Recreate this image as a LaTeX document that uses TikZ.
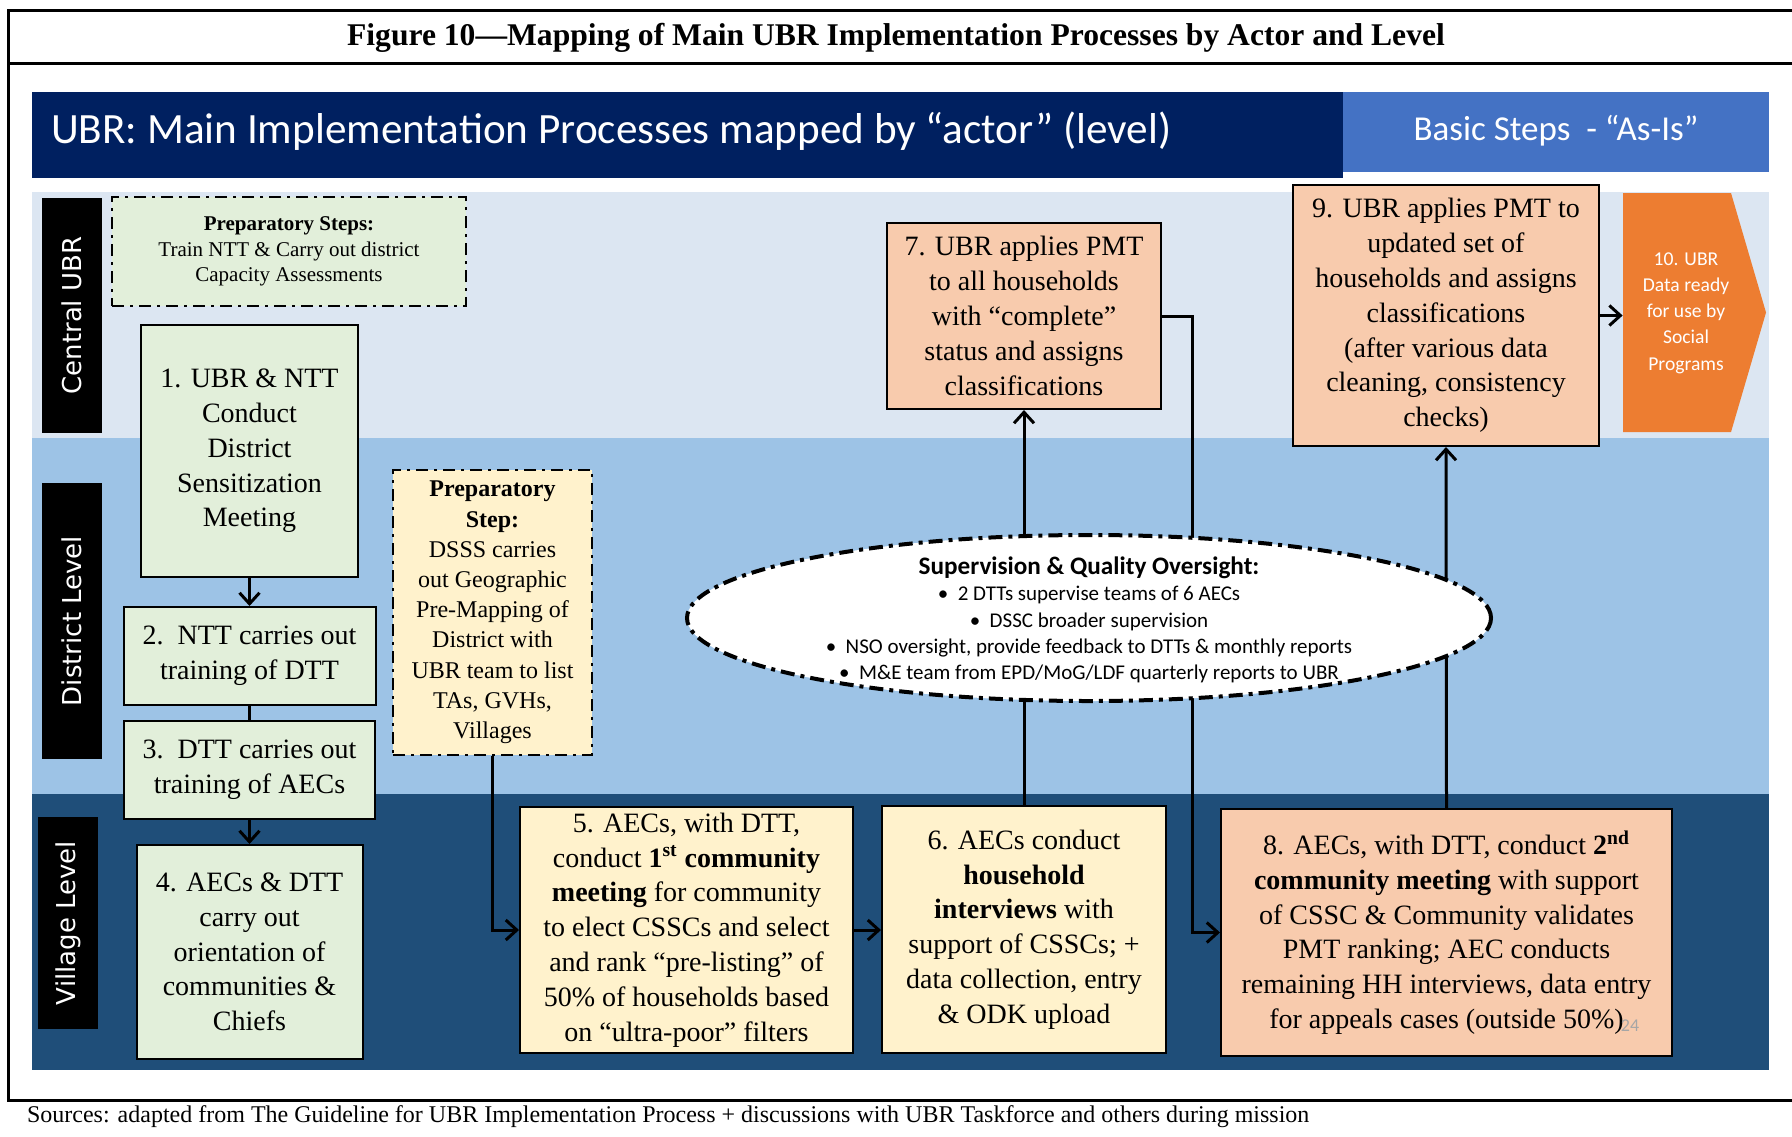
\documentclass[tikz,border=0pt]{standalone}
\usepackage{fontspec}
\setmainfont{Liberation Serif}
\newfontfamily\calibri{Carlito}
\newfontfamily\verd{DejaVu Sans}
\usetikzlibrary{positioning,shapes.geometric,arrows.meta}

\definecolor{navy}{HTML}{002060}
\definecolor{hdrblue}{HTML}{4472C4}
\definecolor{bandc}{HTML}{DCE6F2}
\definecolor{bandd}{HTML}{9DC3E6}
\definecolor{bandv}{HTML}{1F4E79}
\definecolor{lgreen}{HTML}{E2EFDA}
\definecolor{lyellow}{HTML}{FFF2CC}
\definecolor{peach}{HTML}{F8CBAD}
\definecolor{orng}{HTML}{ED7D31}

\begin{document}
\begin{tikzpicture}[x=0.5pt,y=-0.5pt,
  box/.style={draw,line width=1pt,align=center,inner sep=0pt,font=\fontsize{14}{17.4}\selectfont},
  prepbox/.style={box,line width=1.2pt,dash pattern=on 6pt off 3pt on 1.5pt off 3pt},
  lvl/.style={fill=black,text=white,rotate=90,inner sep=0pt,minimum height=30pt,font=\verd\fontsize{13}{15}\selectfont},
  arr/.style={line width=1.5pt,-{Straight Barb[length=5.5pt,width=10pt]}},
  con/.style={line width=1.5pt}]
\useasboundingbox (0,0) rectangle (1792,1136);

\draw[line width=1.5pt] (1792,10) -- (8,10) -- (8,1100) -- (1792,1100);
\draw[line width=1.5pt] (8,63) -- (1792,63);
\node (title) at (896,38) {\bfseries\fontsize{15.8}{18}\selectfont Figure 10—Mapping of Main UBR Implementation Processes by Actor and Level};

\fill[navy] (32,92) rectangle (1343,178);
\fill[hdrblue] (1343,92) rectangle (1769,172);
\node[anchor=west,text=white,font=\calibri\fontsize{21.6}{26}\selectfont] (hdr) at (44,131) {UBR: Main Implementation Processes mapped by “actor” (level)};
\node[text=white,font=\calibri\fontsize{17.5}{20}\selectfont] (steps) at (1556,131) {Basic Steps\ \ - “As-Is”};

\fill[bandc] (32,192) rectangle (1769,438);
\fill[bandd] (32,438) rectangle (1769,794);
\fill[bandv] (32,794) rectangle (1769,1070);

\node[lvl,minimum width=117.5pt] (central) at (72,315.5) {Central UBR};
\node[lvl,minimum width=138pt] (district) at (72,621) {District Level};
\node[lvl,minimum width=106pt] (village) at (68,923) {Village Level};

\node[prepbox,fill=lgreen,minimum width=177pt,minimum height=54.5pt,font=\fontsize{10.5}{12.9}\selectfont] (prepcap) at (289,251.5) {\textbf{Preparatory Steps:}\\Train NTT \& Carry out district\\Capacity Assessments};
\node[box,fill=lgreen,minimum width=108.5pt,minimum height=126pt] (s1) at (249.5,451) {1. UBR \& NTT\\Conduct\\District\\Sensitization\\Meeting};
\node[box,fill=lgreen,minimum width=126pt,minimum height=49pt] (s2) [below=14pt of s1] {2.\ \ NTT carries out\\training of DTT};
\node[box,fill=lgreen,minimum width=125.5pt,minimum height=49pt] (s3) [below=7pt of s2] {3.\ \ DTT carries out\\training of AECs};
\node[box,fill=lgreen,minimum width=113pt,minimum height=107pt] (s4) [below=12pt of s3] {4. AECs \& DTT\\carry out\\orientation of\\communities \&\\Chiefs};

\node[prepbox,fill=lyellow,minimum width=99.5pt,minimum height=142.5pt,font=\fontsize{12}{15.1}\selectfont] (prepmap) at (492.5,612.5) {\textbf{Preparatory}\\\textbf{Step:}\\DSSS carries\\out Geographic\\Pre-Mapping of\\District with\\UBR team to list\\TAs, GVHs,\\Villages};

\node[box,fill=lyellow,minimum width=166.5pt,minimum height=123pt] (s5) at (686.5,930) {5. AECs, with DTT,\\conduct \textbf{1\textsuperscript{st} community}\\\textbf{meeting} for community\\to elect CSSCs and select\\and rank “pre-listing” of\\50\% of households based\\on “ultra-poor” filters};
\node[box,fill=lyellow,minimum width=142pt,minimum height=123.5pt] (s6) at (1024,929.5) {6. AECs conduct\\\textbf{household}\\\textbf{interviews} with\\support of CSSCs; +\\data collection, entry\\\& ODK upload};
\node[box,fill=peach,minimum width=137pt,minimum height=93pt] (s7) at (1024,316) {7. UBR applies PMT\\to all households\\with “complete”\\status and assigns\\classifications};
\node[box,fill=peach,minimum width=225.5pt,minimum height=123.5pt] (s8) at (1446.5,932.5) {8. AECs, with DTT, conduct \textbf{2\textsuperscript{nd}}\\\textbf{community meeting} with support\\of CSSC \& Community validates\\PMT ranking; AEC conducts\\remaining HH interviews, data entry\\for appeals cases (outside 50\%)};
\node[text=gray!70,font=\calibri\fontsize{9}{10}\selectfont] (pgnum) at (1630,1026) {24};
\node[box,fill=peach,minimum width=153pt,minimum height=130.5pt] (s9) at (1446,315.5) {9. UBR applies PMT to\\updated set of\\households and assigns\\classifications\\(after various data\\cleaning, consistency\\checks)};

\fill[orng] (1623,193) -- (1731,193) -- (1766,312.5) -- (1731,432) -- (1623,432) -- cycle;
\node[text=white,align=center,inner sep=0pt,minimum width=63pt,font=\calibri\fontsize{9.8}{13.1}\selectfont] (s10) at (1686,313) {10. UBR\\Data ready\\for use by\\Social\\Programs};

\draw[arr] (s1.south) -- (s1.south |- s2.north);
\draw[con] (s2.south) -- (s2.south |- s3.north);
\draw[arr] (s3.south) -- (s3.south |- s4.north);
\draw[arr] (prepmap.south) |- (s5.west);
\draw[arr] (s5.east) -- (s5.east -| s6.west);
\draw[arr] (s6.north) -- (s7.south);
\draw[arr] (s7.east) -- ++(30,0) |- (s8.west);
\draw[arr] (s8.north) -- (s9.south);
\draw[arr] (s9.east) -- (s9.east -| s10.west);

\node[ellipse,draw,fill=white,line width=2pt,dash pattern=on 7pt off 3pt on 2pt off 3pt,minimum width=402pt,minimum height=83pt] (sup) at (1089,618) {};
\node[align=center,inner sep=0pt,font=\calibri\fontsize{10.5}{13.1}\selectfont] (suptext) at (1089,620) {\textbf{\fontsize{12.6}{13.1}\selectfont Supervision \& Quality Oversight:}\\•\ \ 2 DTTs supervise teams of 6 AECs\\•\ \ DSSC broader supervision\\•\ \ NSO oversight, provide feedback to DTTs \& monthly reports\\•\ \ M\&E team from EPD/MoG/LDF quarterly reports to UBR};

\node[anchor=west,font=\fontsize{12}{14}\selectfont] (src) at (20,1117) {Sources: adapted from The Guideline for UBR Implementation Process + discussions with UBR Taskforce and others during mission};
\end{tikzpicture}
\end{document}
